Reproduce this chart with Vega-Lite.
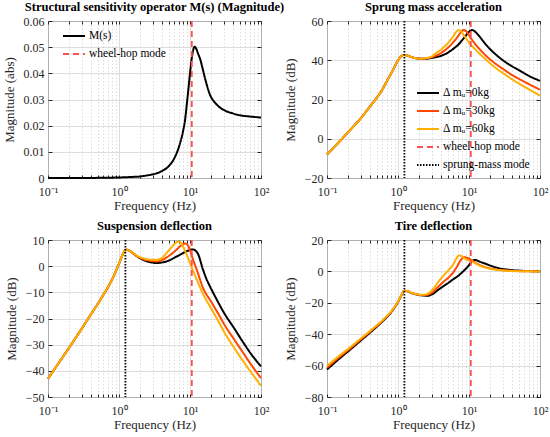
{
  "$schema": "https://vega.github.io/schema/vega-lite/v6.json",
  "padding": {"left": 2, "top": 0, "right": 0, "bottom": 0},
  "config": {
    "font": "Liberation Serif",
    "view": {"stroke": "#262626", "strokeWidth": 1},
    "title": {"font": "Liberation Serif", "fontSize": 12.5, "fontWeight": "bold", "anchor": "middle", "offset": 2, "color": "#000000"}
  },
  "datasets": {
    "m": [
      {"f": 0.1, "v": 0}, {"f": 0.2, "v": 0.00001}, {"f": 0.3, "v": 0.00002}, {"f": 0.5, "v": 0.00005},
      {"f": 0.7, "v": 0.0001}, {"f": 1, "v": 0.0002}, {"f": 1.5, "v": 0.0004}, {"f": 2, "v": 0.0006},
      {"f": 2.5, "v": 0.001}, {"f": 3, "v": 0.0014}, {"f": 4, "v": 0.0026}, {"f": 5, "v": 0.0045},
      {"f": 6, "v": 0.0075}, {"f": 7, "v": 0.012}, {"f": 8, "v": 0.018}, {"f": 8.5, "v": 0.022},
      {"f": 9, "v": 0.028}, {"f": 9.5, "v": 0.034}, {"f": 10, "v": 0.04}, {"f": 10.5, "v": 0.045},
      {"f": 11, "v": 0.0485}, {"f": 11.6, "v": 0.0502}, {"f": 12.2, "v": 0.0495}, {"f": 13, "v": 0.0475},
      {"f": 14, "v": 0.0452}, {"f": 15, "v": 0.042}, {"f": 16.5, "v": 0.0375}, {"f": 19, "v": 0.032},
      {"f": 23, "v": 0.0285}, {"f": 29, "v": 0.0262}, {"f": 40, "v": 0.0247}, {"f": 50, "v": 0.024},
      {"f": 70, "v": 0.0235}, {"f": 100, "v": 0.0231}
    ],
    "modes": [
      {"f": 10.6, "s": "wh"},
      {"f": 1.23, "s": "sm"}
    ],
    "acc": [
      {"f": 0.1, "v": -8, "s": "k0"}, {"f": 0.163, "v": 0, "s": "k0"}, {"f": 0.2, "v": 3.5, "s": "k0"},
      {"f": 0.3, "v": 10.5, "s": "k0"}, {"f": 0.4, "v": 16.3, "s": "k0"}, {"f": 0.5, "v": 20.8, "s": "k0"},
      {"f": 0.6, "v": 25, "s": "k0"}, {"f": 0.7, "v": 29.5, "s": "k0"}, {"f": 0.8, "v": 33.3, "s": "k0"},
      {"f": 0.9, "v": 36.8, "s": "k0"}, {"f": 1.0, "v": 40, "s": "k0"}, {"f": 1.1, "v": 41.9, "s": "k0"},
      {"f": 1.22, "v": 42.7, "s": "k0"}, {"f": 1.35, "v": 42.4, "s": "k0"}, {"f": 1.5, "v": 41.8, "s": "k0"},
      {"f": 1.75, "v": 41.1, "s": "k0"}, {"f": 2.1, "v": 40.8, "s": "k0"}, {"f": 2.5, "v": 40.8, "s": "k0"},
      {"f": 3, "v": 41.2, "s": "k0"}, {"f": 4, "v": 42.2, "s": "k0"}, {"f": 5, "v": 43.8, "s": "k0"},
      {"f": 6, "v": 45.8, "s": "k0"}, {"f": 7, "v": 47.8, "s": "k0"}, {"f": 8, "v": 50.2, "s": "k0"},
      {"f": 9, "v": 52.5, "s": "k0"}, {"f": 10, "v": 54.5, "s": "k0"}, {"f": 10.5, "v": 55.1, "s": "k0"},
      {"f": 11, "v": 55.4, "s": "k0"}, {"f": 11.7, "v": 55.1, "s": "k0"}, {"f": 12.5, "v": 54.2, "s": "k0"},
      {"f": 14, "v": 52.2, "s": "k0"}, {"f": 16, "v": 49.5, "s": "k0"}, {"f": 20, "v": 45.5, "s": "k0"},
      {"f": 25, "v": 42.3, "s": "k0"}, {"f": 30, "v": 40, "s": "k0"}, {"f": 40, "v": 37, "s": "k0"},
      {"f": 50, "v": 35, "s": "k0"}, {"f": 70, "v": 32, "s": "k0"}, {"f": 100, "v": 29.5, "s": "k0"},

      {"f": 0.1, "v": -8, "s": "k30"}, {"f": 0.163, "v": 0, "s": "k30"}, {"f": 0.2, "v": 3.5, "s": "k30"},
      {"f": 0.3, "v": 10.5, "s": "k30"}, {"f": 0.4, "v": 16.3, "s": "k30"}, {"f": 0.5, "v": 20.8, "s": "k30"},
      {"f": 0.6, "v": 25, "s": "k30"}, {"f": 0.7, "v": 29.5, "s": "k30"}, {"f": 0.8, "v": 33.3, "s": "k30"},
      {"f": 0.9, "v": 36.8, "s": "k30"}, {"f": 1.0, "v": 40, "s": "k30"}, {"f": 1.1, "v": 41.9, "s": "k30"},
      {"f": 1.22, "v": 42.7, "s": "k30"}, {"f": 1.35, "v": 42.4, "s": "k30"}, {"f": 1.5, "v": 41.8, "s": "k30"},
      {"f": 1.75, "v": 41.1, "s": "k30"}, {"f": 2.1, "v": 40.8, "s": "k30"}, {"f": 2.5, "v": 41, "s": "k30"},
      {"f": 3, "v": 41.6, "s": "k30"}, {"f": 4, "v": 43.6, "s": "k30"}, {"f": 5, "v": 46.2, "s": "k30"},
      {"f": 6, "v": 49.2, "s": "k30"}, {"f": 7, "v": 52.2, "s": "k30"}, {"f": 7.7, "v": 54.3, "s": "k30"},
      {"f": 8.4, "v": 55.4, "s": "k30"}, {"f": 9.2, "v": 54.6, "s": "k30"}, {"f": 10, "v": 52.8, "s": "k30"},
      {"f": 11, "v": 50.5, "s": "k30"}, {"f": 12, "v": 48.6, "s": "k30"}, {"f": 14, "v": 45.8, "s": "k30"},
      {"f": 16, "v": 43.6, "s": "k30"}, {"f": 20, "v": 40.3, "s": "k30"}, {"f": 25, "v": 37.6, "s": "k30"},
      {"f": 30, "v": 35.6, "s": "k30"}, {"f": 40, "v": 32.6, "s": "k30"}, {"f": 50, "v": 30.6, "s": "k30"},
      {"f": 70, "v": 27.8, "s": "k30"}, {"f": 100, "v": 25, "s": "k30"},

      {"f": 0.1, "v": -8, "s": "k60"}, {"f": 0.163, "v": 0, "s": "k60"}, {"f": 0.2, "v": 3.5, "s": "k60"},
      {"f": 0.3, "v": 10.5, "s": "k60"}, {"f": 0.4, "v": 16.3, "s": "k60"}, {"f": 0.5, "v": 20.8, "s": "k60"},
      {"f": 0.6, "v": 25, "s": "k60"}, {"f": 0.7, "v": 29.5, "s": "k60"}, {"f": 0.8, "v": 33.3, "s": "k60"},
      {"f": 0.9, "v": 36.8, "s": "k60"}, {"f": 1.0, "v": 40, "s": "k60"}, {"f": 1.1, "v": 41.9, "s": "k60"},
      {"f": 1.22, "v": 42.7, "s": "k60"}, {"f": 1.35, "v": 42.4, "s": "k60"}, {"f": 1.5, "v": 41.8, "s": "k60"},
      {"f": 1.75, "v": 41.1, "s": "k60"}, {"f": 2.1, "v": 40.8, "s": "k60"}, {"f": 2.5, "v": 41.1, "s": "k60"},
      {"f": 3, "v": 42, "s": "k60"}, {"f": 3.5, "v": 43.9, "s": "k60"}, {"f": 4, "v": 45.3, "s": "k60"},
      {"f": 5, "v": 48.6, "s": "k60"}, {"f": 6, "v": 52.2, "s": "k60"}, {"f": 6.6, "v": 54.4, "s": "k60"},
      {"f": 7.15, "v": 55.4, "s": "k60"}, {"f": 7.8, "v": 54.6, "s": "k60"}, {"f": 8.5, "v": 52.6, "s": "k60"},
      {"f": 9.3, "v": 50.7, "s": "k60"}, {"f": 10, "v": 49, "s": "k60"}, {"f": 11, "v": 47.3, "s": "k60"},
      {"f": 12, "v": 45.9, "s": "k60"}, {"f": 14, "v": 43.4, "s": "k60"}, {"f": 16, "v": 41.5, "s": "k60"},
      {"f": 20, "v": 38.3, "s": "k60"}, {"f": 25, "v": 35.5, "s": "k60"}, {"f": 30, "v": 33.5, "s": "k60"},
      {"f": 40, "v": 30.4, "s": "k60"}, {"f": 50, "v": 28.2, "s": "k60"}, {"f": 70, "v": 25.2, "s": "k60"},
      {"f": 100, "v": 22, "s": "k60"}
    ],
    "susp": [
      {"f": 0.1, "v": -43, "s": "k0"}, {"f": 0.15, "v": -36, "s": "k0"}, {"f": 0.2, "v": -31, "s": "k0"},
      {"f": 0.3, "v": -23.8, "s": "k0"}, {"f": 0.4, "v": -18.5, "s": "k0"}, {"f": 0.5, "v": -14.5, "s": "k0"},
      {"f": 0.6, "v": -11, "s": "k0"}, {"f": 0.7, "v": -8, "s": "k0"}, {"f": 0.8, "v": -5, "s": "k0"},
      {"f": 0.9, "v": -2, "s": "k0"}, {"f": 1.0, "v": 1, "s": "k0"}, {"f": 1.1, "v": 3.8, "s": "k0"},
      {"f": 1.2, "v": 5.8, "s": "k0"}, {"f": 1.27, "v": 6.3, "s": "k0"}, {"f": 1.4, "v": 5.9, "s": "k0"},
      {"f": 1.6, "v": 4.8, "s": "k0"}, {"f": 1.85, "v": 3.5, "s": "k0"}, {"f": 2.2, "v": 2.4, "s": "k0"},
      {"f": 2.7, "v": 1.6, "s": "k0"}, {"f": 3.35, "v": 1.2, "s": "k0"}, {"f": 4, "v": 1.4, "s": "k0"},
      {"f": 5, "v": 2.1, "s": "k0"}, {"f": 6.4, "v": 3.6, "s": "k0"}, {"f": 7.5, "v": 4.6, "s": "k0"},
      {"f": 9, "v": 5.7, "s": "k0"}, {"f": 10, "v": 6.2, "s": "k0"}, {"f": 11, "v": 6.4, "s": "k0"},
      {"f": 12, "v": 5.9, "s": "k0"}, {"f": 13, "v": 4.6, "s": "k0"}, {"f": 15.2, "v": -1.2, "s": "k0"},
      {"f": 17, "v": -4.8, "s": "k0"}, {"f": 19, "v": -7.6, "s": "k0"}, {"f": 23, "v": -12, "s": "k0"},
      {"f": 32, "v": -19, "s": "k0"}, {"f": 40, "v": -22.9, "s": "k0"}, {"f": 56, "v": -29.1, "s": "k0"},
      {"f": 70, "v": -33, "s": "k0"}, {"f": 100, "v": -38.3, "s": "k0"},

      {"f": 0.1, "v": -43, "s": "k30"}, {"f": 0.15, "v": -36, "s": "k30"}, {"f": 0.2, "v": -31, "s": "k30"},
      {"f": 0.3, "v": -23.8, "s": "k30"}, {"f": 0.4, "v": -18.5, "s": "k30"}, {"f": 0.5, "v": -14.5, "s": "k30"},
      {"f": 0.6, "v": -11, "s": "k30"}, {"f": 0.7, "v": -8, "s": "k30"}, {"f": 0.8, "v": -5, "s": "k30"},
      {"f": 0.9, "v": -2, "s": "k30"}, {"f": 1.0, "v": 1, "s": "k30"}, {"f": 1.1, "v": 3.8, "s": "k30"},
      {"f": 1.2, "v": 5.8, "s": "k30"}, {"f": 1.27, "v": 6.3, "s": "k30"}, {"f": 1.4, "v": 5.9, "s": "k30"},
      {"f": 1.6, "v": 4.8, "s": "k30"}, {"f": 1.85, "v": 3.6, "s": "k30"}, {"f": 2.2, "v": 2.7, "s": "k30"},
      {"f": 2.7, "v": 2.1, "s": "k30"}, {"f": 3.35, "v": 1.8, "s": "k30"}, {"f": 4, "v": 2.3, "s": "k30"},
      {"f": 5.2, "v": 4.2, "s": "k30"}, {"f": 6.4, "v": 6.2, "s": "k30"}, {"f": 7.5, "v": 7.9, "s": "k30"},
      {"f": 8.6, "v": 8.7, "s": "k30"}, {"f": 9.5, "v": 7.6, "s": "k30"}, {"f": 10.3, "v": 5, "s": "k30"},
      {"f": 11, "v": 2.6, "s": "k30"}, {"f": 12.5, "v": -1.5, "s": "k30"}, {"f": 15.2, "v": -8.2, "s": "k30"},
      {"f": 20, "v": -13.7, "s": "k30"}, {"f": 25, "v": -18.2, "s": "k30"}, {"f": 32.4, "v": -23.5, "s": "k30"},
      {"f": 40, "v": -27.2, "s": "k30"}, {"f": 55.7, "v": -33, "s": "k30"}, {"f": 70, "v": -37, "s": "k30"},
      {"f": 100, "v": -42.8, "s": "k30"},

      {"f": 0.1, "v": -43, "s": "k60"}, {"f": 0.15, "v": -36, "s": "k60"}, {"f": 0.2, "v": -31, "s": "k60"},
      {"f": 0.3, "v": -23.8, "s": "k60"}, {"f": 0.4, "v": -18.5, "s": "k60"}, {"f": 0.5, "v": -14.5, "s": "k60"},
      {"f": 0.6, "v": -11, "s": "k60"}, {"f": 0.7, "v": -8, "s": "k60"}, {"f": 0.8, "v": -5, "s": "k60"},
      {"f": 0.9, "v": -2, "s": "k60"}, {"f": 1.0, "v": 1, "s": "k60"}, {"f": 1.1, "v": 3.8, "s": "k60"},
      {"f": 1.2, "v": 5.8, "s": "k60"}, {"f": 1.27, "v": 6.3, "s": "k60"}, {"f": 1.4, "v": 5.9, "s": "k60"},
      {"f": 1.6, "v": 4.9, "s": "k60"}, {"f": 1.85, "v": 3.8, "s": "k60"}, {"f": 2.2, "v": 3, "s": "k60"},
      {"f": 2.7, "v": 2.5, "s": "k60"}, {"f": 3.35, "v": 2.4, "s": "k60"}, {"f": 4, "v": 3.1, "s": "k60"},
      {"f": 5.2, "v": 6.5, "s": "k60"}, {"f": 6.4, "v": 9, "s": "k60"}, {"f": 7, "v": 9.4, "s": "k60"},
      {"f": 7.6, "v": 8.6, "s": "k60"}, {"f": 8.9, "v": 4.6, "s": "k60"}, {"f": 11, "v": -1.6, "s": "k60"},
      {"f": 12.5, "v": -5.2, "s": "k60"}, {"f": 15.2, "v": -10.5, "s": "k60"}, {"f": 20, "v": -16.3, "s": "k60"},
      {"f": 25, "v": -21, "s": "k60"}, {"f": 32.4, "v": -26.5, "s": "k60"}, {"f": 40, "v": -30.4, "s": "k60"},
      {"f": 55.7, "v": -36.2, "s": "k60"}, {"f": 70, "v": -40, "s": "k60"}, {"f": 100, "v": -45.7, "s": "k60"}
    ],
    "tire": [
      {"f": 0.1, "v": -62.5, "s": "k0"}, {"f": 0.15, "v": -55.5, "s": "k0"}, {"f": 0.2, "v": -50.8, "s": "k0"},
      {"f": 0.3, "v": -44, "s": "k0"}, {"f": 0.4, "v": -39.2, "s": "k0"}, {"f": 0.5, "v": -35.3, "s": "k0"},
      {"f": 0.6, "v": -32, "s": "k0"}, {"f": 0.7, "v": -29, "s": "k0"}, {"f": 0.8, "v": -26, "s": "k0"},
      {"f": 0.9, "v": -22.8, "s": "k0"}, {"f": 1.0, "v": -19.5, "s": "k0"}, {"f": 1.1, "v": -15.8, "s": "k0"},
      {"f": 1.22, "v": -12.5, "s": "k0"}, {"f": 1.35, "v": -12.6, "s": "k0"}, {"f": 1.5, "v": -13.5, "s": "k0"},
      {"f": 1.8, "v": -14.6, "s": "k0"}, {"f": 2.2, "v": -15.3, "s": "k0"}, {"f": 2.6, "v": -15.5, "s": "k0"},
      {"f": 3.1, "v": -14.3, "s": "k0"}, {"f": 3.72, "v": -11.6, "s": "k0"}, {"f": 4.4, "v": -9.3, "s": "k0"},
      {"f": 5.15, "v": -7.2, "s": "k0"}, {"f": 6, "v": -5, "s": "k0"}, {"f": 7.15, "v": -2.6, "s": "k0"},
      {"f": 8, "v": -0.6, "s": "k0"}, {"f": 8.9, "v": 1.4, "s": "k0"}, {"f": 10, "v": 4, "s": "k0"},
      {"f": 11, "v": 6.3, "s": "k0"}, {"f": 11.8, "v": 7.3, "s": "k0"}, {"f": 12.5, "v": 7.2, "s": "k0"},
      {"f": 14, "v": 6.3, "s": "k0"}, {"f": 17, "v": 4.9, "s": "k0"}, {"f": 20, "v": 3.7, "s": "k0"},
      {"f": 26, "v": 2.1, "s": "k0"}, {"f": 35, "v": 1.1, "s": "k0"}, {"f": 50, "v": 0.5, "s": "k0"},
      {"f": 70, "v": 0.2, "s": "k0"}, {"f": 100, "v": 0, "s": "k0"},

      {"f": 0.1, "v": -61.3, "s": "k30"}, {"f": 0.15, "v": -54.5, "s": "k30"}, {"f": 0.2, "v": -50, "s": "k30"},
      {"f": 0.3, "v": -43.3, "s": "k30"}, {"f": 0.4, "v": -38.6, "s": "k30"}, {"f": 0.5, "v": -34.8, "s": "k30"},
      {"f": 0.6, "v": -31.6, "s": "k30"}, {"f": 0.7, "v": -28.6, "s": "k30"}, {"f": 0.8, "v": -25.7, "s": "k30"},
      {"f": 0.9, "v": -22.6, "s": "k30"}, {"f": 1.0, "v": -19.3, "s": "k30"}, {"f": 1.1, "v": -15.7, "s": "k30"},
      {"f": 1.22, "v": -12.4, "s": "k30"}, {"f": 1.35, "v": -12.5, "s": "k30"}, {"f": 1.5, "v": -13.4, "s": "k30"},
      {"f": 1.8, "v": -14.5, "s": "k30"}, {"f": 2.2, "v": -15.1, "s": "k30"}, {"f": 2.6, "v": -14.9, "s": "k30"},
      {"f": 3.1, "v": -13.1, "s": "k30"}, {"f": 3.72, "v": -9.6, "s": "k30"}, {"f": 4.4, "v": -6.5, "s": "k30"},
      {"f": 5.15, "v": -3.9, "s": "k30"}, {"f": 6, "v": -0.6, "s": "k30"}, {"f": 6.8, "v": 3.2, "s": "k30"},
      {"f": 7.5, "v": 6.6, "s": "k30"}, {"f": 8.6, "v": 9.1, "s": "k30"}, {"f": 9.5, "v": 8.6, "s": "k30"},
      {"f": 11, "v": 7, "s": "k30"}, {"f": 12.3, "v": 5.5, "s": "k30"}, {"f": 14, "v": 4.2, "s": "k30"},
      {"f": 17, "v": 2.7, "s": "k30"}, {"f": 20, "v": 1.9, "s": "k30"}, {"f": 26, "v": 1.1, "s": "k30"},
      {"f": 35, "v": 0.5, "s": "k30"}, {"f": 50, "v": 0.2, "s": "k30"}, {"f": 100, "v": 0, "s": "k30"},

      {"f": 0.1, "v": -60.2, "s": "k60"}, {"f": 0.15, "v": -53.6, "s": "k60"}, {"f": 0.2, "v": -49.2, "s": "k60"},
      {"f": 0.3, "v": -42.7, "s": "k60"}, {"f": 0.4, "v": -38.1, "s": "k60"}, {"f": 0.5, "v": -34.4, "s": "k60"},
      {"f": 0.6, "v": -31.3, "s": "k60"}, {"f": 0.7, "v": -28.3, "s": "k60"}, {"f": 0.8, "v": -25.5, "s": "k60"},
      {"f": 0.9, "v": -22.4, "s": "k60"}, {"f": 1.0, "v": -19.1, "s": "k60"}, {"f": 1.1, "v": -15.6, "s": "k60"},
      {"f": 1.22, "v": -12.3, "s": "k60"}, {"f": 1.35, "v": -12.4, "s": "k60"}, {"f": 1.5, "v": -13.3, "s": "k60"},
      {"f": 1.8, "v": -14.4, "s": "k60"}, {"f": 2.2, "v": -14.9, "s": "k60"}, {"f": 2.6, "v": -14.3, "s": "k60"},
      {"f": 3.1, "v": -11.4, "s": "k60"}, {"f": 3.72, "v": -6.5, "s": "k60"}, {"f": 4.4, "v": -2.5, "s": "k60"},
      {"f": 5.15, "v": 0.8, "s": "k60"}, {"f": 6, "v": 4.5, "s": "k60"}, {"f": 6.6, "v": 8, "s": "k60"},
      {"f": 7.2, "v": 10.2, "s": "k60"}, {"f": 7.8, "v": 9.8, "s": "k60"}, {"f": 8.9, "v": 7.9, "s": "k60"},
      {"f": 10, "v": 6.9, "s": "k60"}, {"f": 11, "v": 6.3, "s": "k60"}, {"f": 12.5, "v": 5, "s": "k60"},
      {"f": 14, "v": 3.8, "s": "k60"}, {"f": 17, "v": 2.4, "s": "k60"}, {"f": 20, "v": 1.6, "s": "k60"},
      {"f": 26, "v": 0.9, "s": "k60"}, {"f": 35, "v": 0.4, "s": "k60"}, {"f": 50, "v": 0.1, "s": "k60"},
      {"f": 100, "v": 0, "s": "k60"}
    ]
  },
  "columns": 2,
  "spacing": {"column": 66, "row": 62},
  "bounds": "flush",
  "resolve": {"scale": {"color": "independent", "strokeDash": "independent"}},
  "concat": [
    {
      "title": "Structural sensitivity operator M(s) (Magnitude)",
      "width": 213, "height": 157,
      "resolve": {"axis": {"x": "independent", "y": "independent"}},
      "layer": [
        {
          "data": {"name": "m"},
          "transform": [{"calculate": "'M'", "as": "s"}],
          "mark": {"type": "line", "strokeWidth": 2, "interpolate": "monotone"},
          "encoding": {
            "x": {"field": "f", "type": "quantitative", "scale": {"type": "log", "domain": [0.1, 100]},
              "axis": {"title": "Frequency (Hz)", "values": [0.1,0.2,0.3,0.4,0.5,0.6,0.7,0.8,0.9,1,2,3,4,5,6,7,8,9,10,20,30,40,50,60,70,80,90,100],
                "labelExpr": "datum.value == 0.1 ? '10⁻¹' : datum.value == 1 ? '10⁰' : datum.value == 10 ? '10¹' : datum.value == 100 ? '10²' : ''",
                "gridDash": {"condition": {"test": "indexof([0.1,1,10,100], datum.value) >= 0", "value": []}, "value": [1.5, 2]},
                "labelFont": "Liberation Serif", "labelFontSize": 12, "labelColor": "#262626",
                "titleFont": "Liberation Serif", "titleFontSize": 13, "titleFontWeight": "normal", "titleColor": "#262626",
                "domain": false, "tickColor": "#262626", "tickSize": -3, "labelPadding": 11, "titlePadding": 2,
                "gridColor": "#d4d4d4", "gridWidth": 0.8, "labelFlush": false, "labelOverlap": false}},
            "y": {"field": "v", "type": "quantitative", "scale": {"domain": [0, 0.06]},
              "axis": {"title": "Magnitude (abs)", "values": [0,0.01,0.02,0.03,0.04,0.05,0.06],
                "labelExpr": "datum.value == 0 ? '0' : format(datum.value, '.2f')",
                "labelFont": "Liberation Serif", "labelFontSize": 12, "labelColor": "#262626",
                "titleFont": "Liberation Serif", "titleFontSize": 13, "titleFontWeight": "normal", "titleColor": "#262626",
                "domain": false, "tickColor": "#262626", "tickSize": -4, "labelPadding": 8, "titlePadding": 7,
                "gridColor": "#d4d4d4", "gridWidth": 0.8, "labelFlush": false, "labelOverlap": false}},
            "color": {"field": "s", "type": "nominal",
              "scale": {"domain": ["M", "wh"], "range": ["#000000", "#FF5050"]},
              "legend": {"title": null, "orient": "none", "legendX": 14, "legendY": 3, "symbolType": "stroke", "symbolSize": 484, "symbolStrokeWidth": 2, "rowPadding": -12.5, "labelOffset": 3,
                "labelFont": "Liberation Serif", "labelFontSize": 11.5, "labelColor": "#000000",
                "labelExpr": "datum.label == 'M' ? 'M(s)' : 'wheel-hop mode'"}},
            "strokeDash": {"field": "s", "type": "nominal",
              "scale": {"domain": ["M", "wh"], "range": [[1, 0], [6, 4]]},
              "legend": {"title": null, "orient": "none", "legendX": 14, "legendY": 3, "symbolType": "stroke", "symbolSize": 484, "symbolStrokeWidth": 2, "rowPadding": -12.5, "labelOffset": 3,
                "labelFont": "Liberation Serif", "labelFontSize": 11.5, "labelColor": "#000000",
                "labelExpr": "datum.label == 'M' ? 'M(s)' : 'wheel-hop mode'"}}
          }
        },
        {
          "data": {"name": "modes"},
          "transform": [{"filter": "datum.s == 'wh'"}],
          "mark": {"type": "rule", "strokeWidth": 1.8},
          "encoding": {
            "x": {"field": "f", "type": "quantitative", "axis": null},
            "color": {"field": "s", "type": "nominal"},
            "strokeDash": {"field": "s", "type": "nominal"}
          }
        },
        {
          "data": {"name": "modes"},
          "transform": [{"filter": "datum.s == 'wh'"}],
          "mark": {"type": "point", "opacity": 0},
          "encoding": {
            "x": {"field": "f", "type": "quantitative",
              "axis": {"orient": "top", "title": null, "labels": false, "grid": false, "domain": false, "tickSize": -3, "tickColor": "#262626",
                "values": [0.1,0.2,0.3,0.4,0.5,0.6,0.7,0.8,0.9,1,2,3,4,5,6,7,8,9,10,20,30,40,50,60,70,80,90,100]}},
            "y": {"datum": 0.03, "type": "quantitative",
              "axis": {"orient": "right", "title": null, "labels": false, "grid": false, "domain": false, "tickSize": -4, "tickColor": "#262626",
                "values": [0,0.01,0.02,0.03,0.04,0.05,0.06]}}
          }
        }
      ]
    },
    {
      "title": "Sprung mass acceleration",
      "width": 213, "height": 157,
      "resolve": {"axis": {"x": "independent", "y": "independent"}},
      "layer": [
        {
          "data": {"name": "acc"},
          "mark": {"type": "line", "strokeWidth": 2, "interpolate": "monotone"},
          "encoding": {
            "x": {"field": "f", "type": "quantitative", "scale": {"type": "log", "domain": [0.1, 100]},
              "axis": {"title": "Frequency (Hz)", "values": [0.1,0.2,0.3,0.4,0.5,0.6,0.7,0.8,0.9,1,2,3,4,5,6,7,8,9,10,20,30,40,50,60,70,80,90,100],
                "labelExpr": "datum.value == 0.1 ? '10⁻¹' : datum.value == 1 ? '10⁰' : datum.value == 10 ? '10¹' : datum.value == 100 ? '10²' : ''",
                "gridDash": {"condition": {"test": "indexof([0.1,1,10,100], datum.value) >= 0", "value": []}, "value": [1.5, 2]},
                "labelFont": "Liberation Serif", "labelFontSize": 12, "labelColor": "#262626",
                "titleFont": "Liberation Serif", "titleFontSize": 13, "titleFontWeight": "normal", "titleColor": "#262626",
                "domain": false, "tickColor": "#262626", "tickSize": -3, "labelPadding": 11, "titlePadding": 2,
                "gridColor": "#d4d4d4", "gridWidth": 0.8, "labelFlush": false, "labelOverlap": false}},
            "y": {"field": "v", "type": "quantitative", "scale": {"domain": [-20, 60]},
              "axis": {"title": "Magnitude (dB)", "values": [-20, 0, 20, 40, 60],
                "labelFont": "Liberation Serif", "labelFontSize": 12, "labelColor": "#262626",
                "titleFont": "Liberation Serif", "titleFontSize": 13, "titleFontWeight": "normal", "titleColor": "#262626",
                "domain": false, "tickColor": "#262626", "tickSize": -4, "labelPadding": 8, "titlePadding": 7,
                "gridColor": "#d4d4d4", "gridWidth": 0.8, "labelFlush": false, "labelOverlap": false}},
            "color": {"field": "s", "type": "nominal",
              "scale": {"domain": ["k0", "k30", "k60", "wh", "sm"], "range": ["#000000", "#FF4500", "#FFB000", "#FF5050", "#000000"]},
              "legend": {"title": null, "orient": "none", "legendX": 89, "legendY": 60, "symbolType": "stroke", "symbolSize": 484, "symbolStrokeWidth": 2, "rowPadding": -11, "labelOffset": 3,
                "labelFont": "Liberation Serif", "labelFontSize": 11.5, "labelColor": "#000000",
                "labelExpr": "datum.label == 'k0' ? 'Δ  mᵤ=0kg' : datum.label == 'k30' ? 'Δ  mᵤ=30kg' : datum.label == 'k60' ? 'Δ  mᵤ=60kg' : datum.label == 'wh' ? 'wheel-hop mode' : 'sprung-mass mode'"}},
            "strokeDash": {"field": "s", "type": "nominal",
              "scale": {"domain": ["k0", "k30", "k60", "wh", "sm"], "range": [[1, 0], [1, 0], [1, 0], [6, 4], [1.5, 1.5]]},
              "legend": {"title": null, "orient": "none", "legendX": 89, "legendY": 60, "symbolType": "stroke", "symbolSize": 484, "symbolStrokeWidth": 2, "rowPadding": -11, "labelOffset": 3,
                "labelFont": "Liberation Serif", "labelFontSize": 11.5, "labelColor": "#000000",
                "labelExpr": "datum.label == 'k0' ? 'Δ  mᵤ=0kg' : datum.label == 'k30' ? 'Δ  mᵤ=30kg' : datum.label == 'k60' ? 'Δ  mᵤ=60kg' : datum.label == 'wh' ? 'wheel-hop mode' : 'sprung-mass mode'"}}
          }
        },
        {
          "data": {"name": "modes"},
          "mark": {"type": "rule", "strokeWidth": 1.8},
          "encoding": {
            "x": {"field": "f", "type": "quantitative", "axis": null},
            "color": {"field": "s", "type": "nominal"},
            "strokeDash": {"field": "s", "type": "nominal"}
          }
        },
        {
          "data": {"name": "modes"},
          "mark": {"type": "point", "opacity": 0},
          "encoding": {
            "x": {"field": "f", "type": "quantitative",
              "axis": {"orient": "top", "title": null, "labels": false, "grid": false, "domain": false, "tickSize": -3, "tickColor": "#262626",
                "values": [0.1,0.2,0.3,0.4,0.5,0.6,0.7,0.8,0.9,1,2,3,4,5,6,7,8,9,10,20,30,40,50,60,70,80,90,100]}},
            "y": {"datum": 20, "type": "quantitative",
              "axis": {"orient": "right", "title": null, "labels": false, "grid": false, "domain": false, "tickSize": -4, "tickColor": "#262626",
                "values": [-20, 0, 20, 40, 60]}}
          }
        }
      ]
    },
    {
      "title": "Suspension deflection",
      "width": 213, "height": 157,
      "resolve": {"axis": {"x": "independent", "y": "independent"}},
      "layer": [
        {
          "data": {"name": "susp"},
          "mark": {"type": "line", "strokeWidth": 2, "interpolate": "monotone"},
          "encoding": {
            "x": {"field": "f", "type": "quantitative", "scale": {"type": "log", "domain": [0.1, 100]},
              "axis": {"title": "Frequency (Hz)", "values": [0.1,0.2,0.3,0.4,0.5,0.6,0.7,0.8,0.9,1,2,3,4,5,6,7,8,9,10,20,30,40,50,60,70,80,90,100],
                "labelExpr": "datum.value == 0.1 ? '10⁻¹' : datum.value == 1 ? '10⁰' : datum.value == 10 ? '10¹' : datum.value == 100 ? '10²' : ''",
                "gridDash": {"condition": {"test": "indexof([0.1,1,10,100], datum.value) >= 0", "value": []}, "value": [1.5, 2]},
                "labelFont": "Liberation Serif", "labelFontSize": 12, "labelColor": "#262626",
                "titleFont": "Liberation Serif", "titleFontSize": 13, "titleFontWeight": "normal", "titleColor": "#262626",
                "domain": false, "tickColor": "#262626", "tickSize": -3, "labelPadding": 11, "titlePadding": 2,
                "gridColor": "#d4d4d4", "gridWidth": 0.8, "labelFlush": false, "labelOverlap": false}},
            "y": {"field": "v", "type": "quantitative", "scale": {"domain": [-50, 10]},
              "axis": {"title": "Magnitude (dB)", "values": [-50, -40, -30, -20, -10, 0, 10],
                "labelFont": "Liberation Serif", "labelFontSize": 12, "labelColor": "#262626",
                "titleFont": "Liberation Serif", "titleFontSize": 13, "titleFontWeight": "normal", "titleColor": "#262626",
                "domain": false, "tickColor": "#262626", "tickSize": -4, "labelPadding": 8, "titlePadding": 7,
                "gridColor": "#d4d4d4", "gridWidth": 0.8, "labelFlush": false, "labelOverlap": false}},
            "color": {"field": "s", "type": "nominal",
              "scale": {"domain": ["k0", "k30", "k60", "wh", "sm"], "range": ["#000000", "#FF4500", "#FFB000", "#FF5050", "#000000"]},
              "legend": null},
            "strokeDash": {"field": "s", "type": "nominal",
              "scale": {"domain": ["k0", "k30", "k60", "wh", "sm"], "range": [[1, 0], [1, 0], [1, 0], [6, 4], [1.5, 1.5]]},
              "legend": null}
          }
        },
        {
          "data": {"name": "modes"},
          "mark": {"type": "rule", "strokeWidth": 1.8},
          "encoding": {
            "x": {"field": "f", "type": "quantitative", "axis": null},
            "color": {"field": "s", "type": "nominal"},
            "strokeDash": {"field": "s", "type": "nominal"}
          }
        },
        {
          "data": {"name": "modes"},
          "mark": {"type": "point", "opacity": 0},
          "encoding": {
            "x": {"field": "f", "type": "quantitative",
              "axis": {"orient": "top", "title": null, "labels": false, "grid": false, "domain": false, "tickSize": -3, "tickColor": "#262626",
                "values": [0.1,0.2,0.3,0.4,0.5,0.6,0.7,0.8,0.9,1,2,3,4,5,6,7,8,9,10,20,30,40,50,60,70,80,90,100]}},
            "y": {"datum": -20, "type": "quantitative",
              "axis": {"orient": "right", "title": null, "labels": false, "grid": false, "domain": false, "tickSize": -4, "tickColor": "#262626",
                "values": [-50, -40, -30, -20, -10, 0, 10]}}
          }
        }
      ]
    },
    {
      "title": "Tire deflection",
      "width": 213, "height": 157,
      "resolve": {"axis": {"x": "independent", "y": "independent"}},
      "layer": [
        {
          "data": {"name": "tire"},
          "mark": {"type": "line", "strokeWidth": 2, "interpolate": "monotone"},
          "encoding": {
            "x": {"field": "f", "type": "quantitative", "scale": {"type": "log", "domain": [0.1, 100]},
              "axis": {"title": "Frequency (Hz)", "values": [0.1,0.2,0.3,0.4,0.5,0.6,0.7,0.8,0.9,1,2,3,4,5,6,7,8,9,10,20,30,40,50,60,70,80,90,100],
                "labelExpr": "datum.value == 0.1 ? '10⁻¹' : datum.value == 1 ? '10⁰' : datum.value == 10 ? '10¹' : datum.value == 100 ? '10²' : ''",
                "gridDash": {"condition": {"test": "indexof([0.1,1,10,100], datum.value) >= 0", "value": []}, "value": [1.5, 2]},
                "labelFont": "Liberation Serif", "labelFontSize": 12, "labelColor": "#262626",
                "titleFont": "Liberation Serif", "titleFontSize": 13, "titleFontWeight": "normal", "titleColor": "#262626",
                "domain": false, "tickColor": "#262626", "tickSize": -3, "labelPadding": 11, "titlePadding": 2,
                "gridColor": "#d4d4d4", "gridWidth": 0.8, "labelFlush": false, "labelOverlap": false}},
            "y": {"field": "v", "type": "quantitative", "scale": {"domain": [-80, 20]},
              "axis": {"title": "Magnitude (dB)", "values": [-80, -60, -40, -20, 0, 20],
                "labelFont": "Liberation Serif", "labelFontSize": 12, "labelColor": "#262626",
                "titleFont": "Liberation Serif", "titleFontSize": 13, "titleFontWeight": "normal", "titleColor": "#262626",
                "domain": false, "tickColor": "#262626", "tickSize": -4, "labelPadding": 8, "titlePadding": 7,
                "gridColor": "#d4d4d4", "gridWidth": 0.8, "labelFlush": false, "labelOverlap": false}},
            "color": {"field": "s", "type": "nominal",
              "scale": {"domain": ["k0", "k30", "k60", "wh", "sm"], "range": ["#000000", "#FF4500", "#FFB000", "#FF5050", "#000000"]},
              "legend": null},
            "strokeDash": {"field": "s", "type": "nominal",
              "scale": {"domain": ["k0", "k30", "k60", "wh", "sm"], "range": [[1, 0], [1, 0], [1, 0], [6, 4], [1.5, 1.5]]},
              "legend": null}
          }
        },
        {
          "data": {"name": "modes"},
          "mark": {"type": "rule", "strokeWidth": 1.8},
          "encoding": {
            "x": {"field": "f", "type": "quantitative", "axis": null},
            "color": {"field": "s", "type": "nominal"},
            "strokeDash": {"field": "s", "type": "nominal"}
          }
        },
        {
          "data": {"name": "modes"},
          "mark": {"type": "point", "opacity": 0},
          "encoding": {
            "x": {"field": "f", "type": "quantitative",
              "axis": {"orient": "top", "title": null, "labels": false, "grid": false, "domain": false, "tickSize": -3, "tickColor": "#262626",
                "values": [0.1,0.2,0.3,0.4,0.5,0.6,0.7,0.8,0.9,1,2,3,4,5,6,7,8,9,10,20,30,40,50,60,70,80,90,100]}},
            "y": {"datum": -20, "type": "quantitative",
              "axis": {"orient": "right", "title": null, "labels": false, "grid": false, "domain": false, "tickSize": -4, "tickColor": "#262626",
                "values": [-80, -60, -40, -20, 0, 20]}}
          }
        }
      ]
    }
  ]
}
